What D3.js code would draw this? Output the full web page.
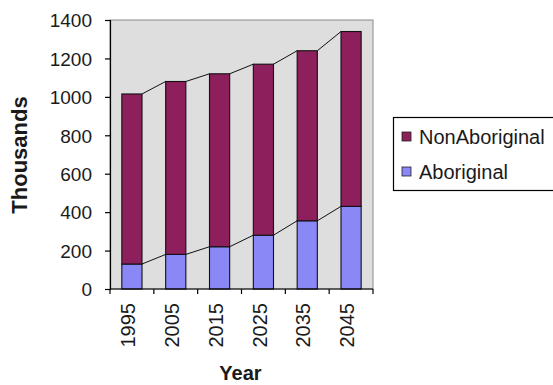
<!DOCTYPE html>
<html>
<head>
<meta charset="utf-8">
<script src="https://cdn.jsdelivr.net/npm/d3@7"></script>
<style>
  html, body { margin: 0; padding: 0; background: #fff; }
  svg text { font-family: "Liberation Sans", Arial, sans-serif; fill: #1a1a1a; }
</style>
</head>
<body>
<svg id="chart" width="553" height="385"></svg>
<script>
// Population projection, in thousands
const years = ["1995", "2005", "2015", "2025", "2035", "2045"];
const aboriginal = [130, 180, 220, 280, 355, 430];
const nonAboriginal = [885, 900, 900, 890, 885, 910];
const seriesNames = ["Aboriginal", "NonAboriginal"];
const seriesColors = ["#8a88f6", "#8c1f5c"];
const yTicks = [0, 200, 400, 600, 800, 1000, 1200, 1400];

const rows = years.map((y, i) => ({ year: y, Aboriginal: aboriginal[i], NonAboriginal: nonAboriginal[i] }));
const stacked = d3.stack().keys(seriesNames)(rows);

const svg = d3.select("#chart");
const plot = { left: 110, right: 373, top: 20, bottom: 289 };

const x = d3.scaleBand().domain(years).range([plot.left, plot.right]).padding(0);
const y = d3.scaleLinear().domain([0, 1400]).range([plot.bottom, plot.top]);
const color = d3.scaleOrdinal().domain(seriesNames).range(seriesColors);
const barW = x.bandwidth() * 0.46;
const barX = d => x(d) + (x.bandwidth() - barW) / 2;

// plot area background and frame
svg.append("rect")
  .attr("x", plot.left).attr("y", plot.top)
  .attr("width", plot.right - plot.left).attr("height", plot.bottom - plot.top)
  .attr("fill", "#dedede").attr("stroke", "#8a8a8a").attr("stroke-width", 1);

// stacked bars
svg.append("g").selectAll("g")
  .data(stacked).join("g")
  .attr("fill", d => color(d.key))
  .selectAll("rect")
  .data(d => d).join("rect")
  .attr("x", d => barX(d.data.year))
  .attr("y", d => y(d[1]))
  .attr("width", barW)
  .attr("height", d => y(d[0]) - y(d[1]))
  .attr("stroke", "#111").attr("stroke-width", 1.1);

// series lines joining the top of each segment to the next bar
const segs = [];
stacked.forEach(layer => {
  for (let i = 0; i < layer.length - 1; i++) {
    segs.push({
      x1: barX(years[i]) + barW, y1: y(layer[i][1]),
      x2: barX(years[i + 1]), y2: y(layer[i + 1][1])
    });
  }
});
svg.append("g").selectAll("line").data(segs).join("line")
  .attr("x1", d => d.x1).attr("y1", d => d.y1)
  .attr("x2", d => d.x2).attr("y2", d => d.y2)
  .attr("stroke", "#111").attr("stroke-width", 1);

// y axis
const yAxis = d3.axisLeft(y).tickValues(yTicks).tickSize(5).tickPadding(13).tickFormat(d3.format("d"));
const gy = svg.append("g").attr("transform", `translate(${plot.left},0)`).call(yAxis);
gy.select(".domain").attr("stroke", "#000").attr("stroke-width", 1.2);
gy.selectAll(".tick line").attr("stroke", "#000").attr("stroke-width", 1.2);
gy.selectAll(".tick text").attr("font-size", 19).attr("fill", "#1a1a1a")
  .attr("font-family", "Liberation Sans, Arial, sans-serif").attr("dy", "0.36em");

// x axis: ticks at category boundaries, labels rotated
const gx = svg.append("g").attr("transform", `translate(0,${plot.bottom})`);
gx.append("line").attr("x1", plot.left).attr("x2", plot.right)
  .attr("stroke", "#000").attr("stroke-width", 1.2);
const edges = years.map(d => x(d)).concat([x(years[years.length - 1]) + x.bandwidth()]);
gx.selectAll("line.edge").data(edges).join("line").attr("class", "edge")
  .attr("x1", d => d).attr("x2", d => d).attr("y1", 0).attr("y2", 5)
  .attr("stroke", "#000").attr("stroke-width", 1.2);
gx.selectAll("text").data(years).join("text")
  .attr("transform", d => `translate(${x(d) + x.bandwidth() / 2 - 4},14) rotate(-90)`)
  .attr("text-anchor", "end").attr("dy", "0.36em")
  .attr("font-size", 20).text(d => d);

// axis titles
svg.append("text").attr("x", (plot.left + plot.right) / 2 - 1).attr("y", 380)
  .attr("text-anchor", "middle").attr("font-size", 20).attr("font-weight", "bold").text("Year");
svg.append("text").attr("transform", "translate(27,155) rotate(-90)")
  .attr("text-anchor", "middle").attr("font-size", 22).attr("font-weight", "bold").text("Thousands");

// legend
const legend = svg.append("g");
legend.append("rect").attr("x", 393.5).attr("y", 117.5).attr("width", 170).attr("height", 73)
  .attr("fill", "#fff").attr("stroke", "#000").attr("stroke-width", 1.2);
const legendItems = ["NonAboriginal", "Aboriginal"];
const li = legend.selectAll("g.item").data(legendItems).join("g").attr("class", "item")
  .attr("transform", (d, i) => `translate(402,${137 + i * 35})`);
li.append("rect").attr("x", 0).attr("y", -5).attr("width", 9).attr("height", 9)
  .attr("fill", d => color(d)).attr("stroke", "#222").attr("stroke-width", 0.8);
li.append("text").attr("x", 17).attr("y", 0).attr("dy", "0.36em")
  .attr("font-size", 20).text(d => d);
</script>
</body>
</html>
